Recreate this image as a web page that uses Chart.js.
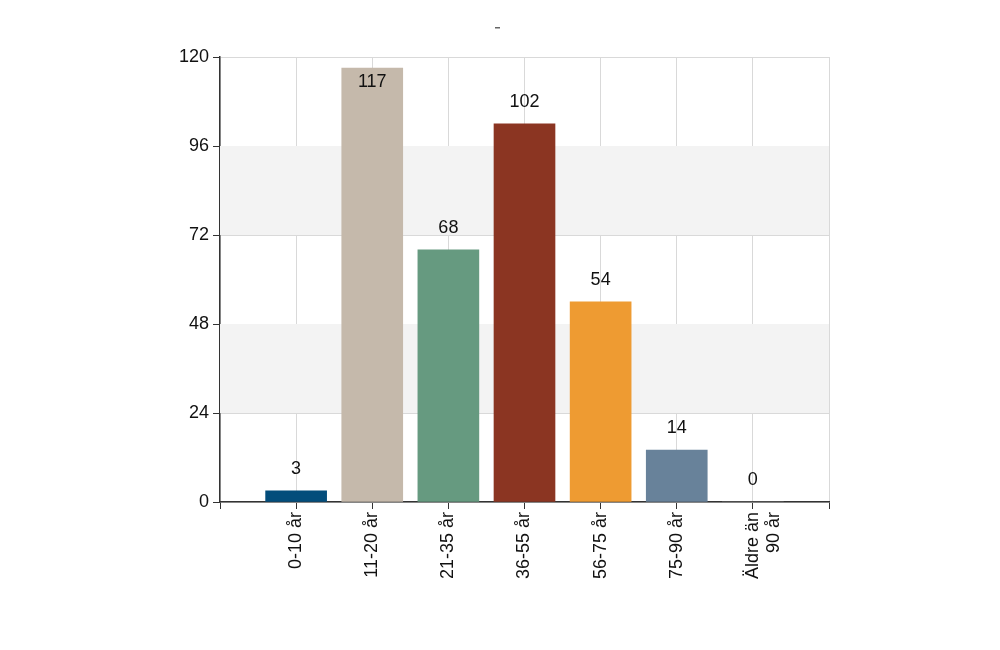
<!DOCTYPE html>
<html><head><meta charset="utf-8">
<script src="https://cdn.jsdelivr.net/npm/chart.js@4"></script>
<style>html,body{margin:0;background:#fff}#wrap{width:1000px;height:650px}</style>
</head><body><div id="wrap"><canvas id="c"></canvas></div>
<script>
const kategorier = ['0-10 år', '11-20 år', '21-35 år', '36-55 år', '56-75 år', '75-90 år', ['Äldre än', '90 år']];
const antal = [3, 117, 68, 102, 54, 14, 0];
const farger = ['#034d7b', '#c5b9ab', '#669a80', '#8b3522', '#ee9b32', '#68829a', '#999999'];
const yTicks = [0, 24, 48, 72, 96, 120];
const FONT = '"Liberation Sans", Arial';

// band i bakgrunden + liten rubrik
const band = {
  id: 'band',
  beforeDatasetsDraw(chart) {
    const { ctx, chartArea: a, scales: { y } } = chart;
    ctx.save();
    ctx.fillStyle = '#f3f3f3';
    [[24, 48], [72, 96]].forEach(([lo, hi]) => {
      ctx.fillRect(a.left, y.getPixelForValue(hi), a.right - a.left, y.getPixelForValue(lo) - y.getPixelForValue(hi));
    });
    ctx.fillStyle = '#666';
    ctx.fillRect(495, 27, 5, 1.5);
    ctx.restore();
  }
};
// värden ovanför staplarna
const etiketter = {
  id: 'etiketter',
  afterDatasetsDraw(chart) {
    const { ctx, chartArea: a } = chart;
    ctx.save();
    ctx.font = '18px ' + FONT;
    ctx.fillStyle = '#111';
    ctx.textAlign = 'center';
    ctx.textBaseline = 'middle';
    chart.getDatasetMeta(0).data.forEach((b, i) => {
      ctx.fillText(antal[i], b.x, Math.max(b.y - 22, a.top + 25));
    });
    ctx.restore();
  }
};

new Chart(document.getElementById('c'), {
  type: 'bar',
  data: { datasets: [{
    data: antal.map((v, i) => ({ x: i + 1, y: v })),
    backgroundColor: farger, borderWidth: 0,
    barThickness: 61
  }] },
  options: {
    responsive: true, maintainAspectRatio: false, animation: false,
    layout: { padding: { left: 0, right: 171, top: 57, bottom: 0 } },
    plugins: { legend: { display: false }, tooltip: { enabled: false } },
    scales: {
      x: {
        type: 'linear', min: 0, max: 8, offset: false,
        afterBuildTicks: s => { s.ticks = [0,1,2,3,4,5,6,7,8].map(v => ({ value: v })); },
        ticks: {
          autoSkip: false, maxRotation: 90, minRotation: 90,
          color: '#111', font: { size: 18, family: FONT },
          callback: v => (v >= 1 && v <= 7) ? kategorier[v - 1] : ''
        },
        grid: { color: '#d9d9d9', tickColor: '#333', tickLength: 7, offset: false },
        border: { color: '#333', width: 1.5 },
        afterFit: s => { s.height = 148; }
      },
      y: {
        min: 0, max: 120,
        afterBuildTicks: s => { s.ticks = yTicks.map(v => ({ value: v })); },
        ticks: { color: '#111', font: { size: 18, family: FONT }, padding: 4 },
        grid: { color: '#d9d9d9', tickColor: '#333', tickLength: 7 },
        border: { color: '#333', width: 1.5 },
        afterFit: s => { s.width = 220; }
      }
    }
  },
  plugins: [band, etiketter]
});
</script></body></html>
